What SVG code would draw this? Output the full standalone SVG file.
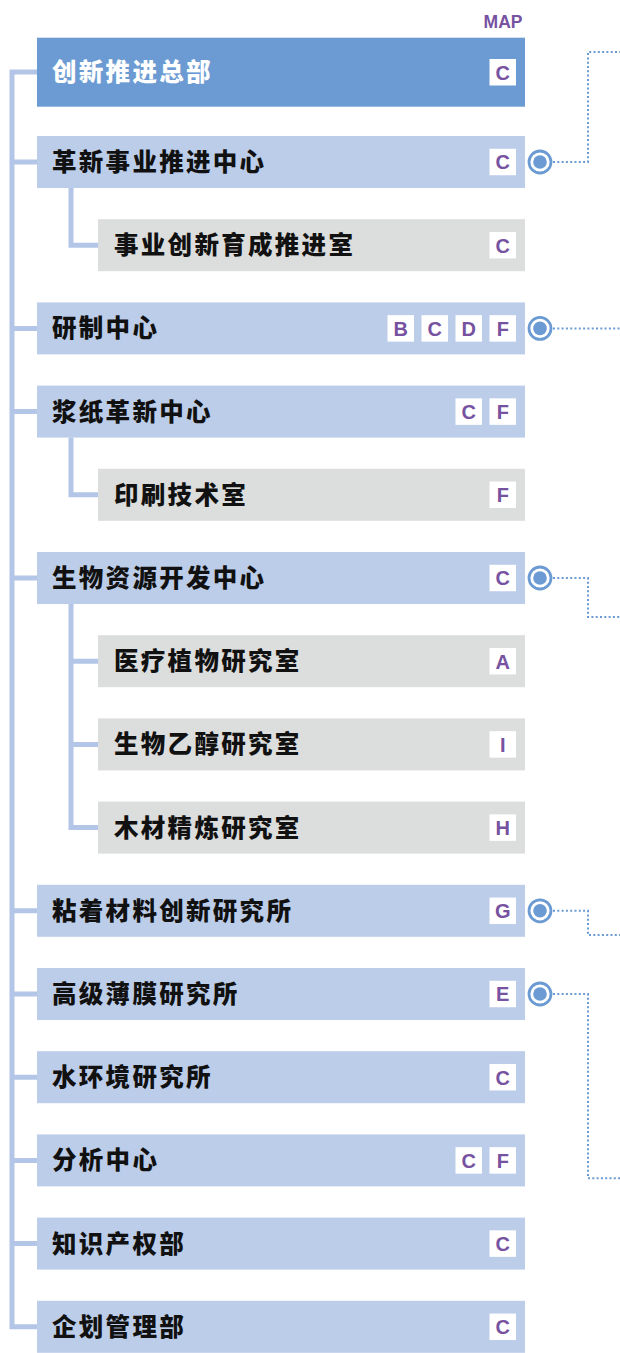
<svg xmlns="http://www.w3.org/2000/svg" width="620" height="1353" viewBox="0 0 620 1353">
<style>
.top{fill:#6b9bd2}
.main{fill:#bccde9}
.sub{fill:#dcdddd}
.lbl{font-family:"Noto Sans CJK SC","Noto Sans",sans-serif;font-weight:900;font-size:24.5px;letter-spacing:2.3px;fill:#111}
.lbl.w{fill:#fff}
.bd{fill:#fff}
.bt{font-family:"Liberation Sans",Arial,sans-serif;font-weight:700;font-size:20px;fill:#7652a0;text-anchor:middle}
.map{font-family:"Liberation Sans",Arial,sans-serif;font-weight:700;font-size:17.5px;fill:#7652a0;text-anchor:end}
.tree{fill:none;stroke:#b4c6e7;stroke-width:5}
.dot{fill:none;stroke:#6b9bd2;stroke-width:2;stroke-dasharray:2 2.3}
.ring{fill:#fff;stroke:#6b9bd2;stroke-width:2.8}
.core{fill:#6b9bd2}
</style>
<rect width="620" height="1353" fill="#fff"/>
<text class="map" x="522.5" y="27.5">MAP</text>

<g id="connectors">
<path class="tree" d="M37,72 H12 V1326.8 H37"/>
<path class="tree" d="M12,162 H37 M12,328.4 H37 M12,411.6 H37 M12,578 H37 M12,910.8 H37 M12,994 H37 M12,1077.2 H37 M12,1160.4 H37 M12,1243.6 H37"/>
<path class="tree" d="M71,188 V245.2 H98 M71,437.6 V494.8 H98 M71,604 V827.6 H98 M71,661.2 H98 M71,744.4 H98"/>
<path class="dot" d="M553,162 H588 V52 H620"/>
<path class="dot" d="M553,328.4 H620"/>
<path class="dot" d="M553,578 H588 V617 H620"/>
<path class="dot" d="M553,910.8 H588 V935 H620"/>
<path class="dot" d="M553,994 H588 V1178.3 H620"/>
<g id="markers">
<circle class="ring" cx="540" cy="162" r="11"/><circle class="core" cx="540" cy="162" r="6.8"/>
<circle class="ring" cx="540" cy="328.4" r="11"/><circle class="core" cx="540" cy="328.4" r="6.8"/>
<circle class="ring" cx="540" cy="578" r="11"/><circle class="core" cx="540" cy="578" r="6.8"/>
<circle class="ring" cx="540" cy="910.8" r="11"/><circle class="core" cx="540" cy="910.8" r="6.8"/>
<circle class="ring" cx="540" cy="994" r="11"/><circle class="core" cx="540" cy="994" r="6.8"/>
</g>
</g>

<g id="n1"><rect class="top" x="37" y="37.7" width="488" height="69"/><text class="lbl w" x="52" y="81">创新推进总部</text><rect class="bd" x="489.5" y="59" width="26.5" height="26.5"/><text class="bt" x="502.75" y="79.5">C</text></g>

<g id="n2"><rect class="main" x="37" y="136" width="488" height="52"/><text class="lbl" x="52" y="171">革新事业推进中心</text><rect class="bd" x="489.5" y="148.75" width="26.5" height="26.5"/><text class="bt" x="502.75" y="169.3">C</text></g>

<g id="n3"><rect class="sub" x="98" y="219.2" width="427" height="52"/><text class="lbl" x="114" y="254.2">事业创新育成推进室</text><rect class="bd" x="489.5" y="231.95" width="26.5" height="26.5"/><text class="bt" x="502.75" y="252.5">C</text></g>

<g id="n4"><rect class="main" x="37" y="302.4" width="488" height="52"/><text class="lbl" x="52" y="337.4">研制中心</text>
<rect class="bd" x="387.5" y="315.15" width="26.5" height="26.5"/><text class="bt" x="400.75" y="335.7">B</text>
<rect class="bd" x="421.5" y="315.15" width="26.5" height="26.5"/><text class="bt" x="434.75" y="335.7">C</text>
<rect class="bd" x="455.5" y="315.15" width="26.5" height="26.5"/><text class="bt" x="468.75" y="335.7">D</text>
<rect class="bd" x="489.5" y="315.15" width="26.5" height="26.5"/><text class="bt" x="502.75" y="335.7">F</text></g>

<g id="n5"><rect class="main" x="37" y="385.6" width="488" height="52"/><text class="lbl" x="52" y="420.6">浆纸革新中心</text>
<rect class="bd" x="455.5" y="398.35" width="26.5" height="26.5"/><text class="bt" x="468.75" y="418.9">C</text>
<rect class="bd" x="489.5" y="398.35" width="26.5" height="26.5"/><text class="bt" x="502.75" y="418.9">F</text></g>

<g id="n6"><rect class="sub" x="98" y="468.8" width="427" height="52"/><text class="lbl" x="114" y="503.8">印刷技术室</text><rect class="bd" x="489.5" y="481.55" width="26.5" height="26.5"/><text class="bt" x="502.75" y="502.1">F</text></g>

<g id="n7"><rect class="main" x="37" y="552" width="488" height="52"/><text class="lbl" x="52" y="587">生物资源开发中心</text><rect class="bd" x="489.5" y="564.75" width="26.5" height="26.5"/><text class="bt" x="502.75" y="585.3">C</text></g>

<g id="n8"><rect class="sub" x="98" y="635.2" width="427" height="52"/><text class="lbl" x="114" y="670.2">医疗植物研究室</text><rect class="bd" x="489.5" y="647.95" width="26.5" height="26.5"/><text class="bt" x="502.75" y="668.5">A</text></g>

<g id="n9"><rect class="sub" x="98" y="718.4" width="427" height="52"/><text class="lbl" x="114" y="753.4">生物乙醇研究室</text><rect class="bd" x="489.5" y="731.15" width="26.5" height="26.5"/><text class="bt" x="502.75" y="751.7">I</text></g>

<g id="n10"><rect class="sub" x="98" y="801.6" width="427" height="52"/><text class="lbl" x="114" y="836.6">木材精炼研究室</text><rect class="bd" x="489.5" y="814.35" width="26.5" height="26.5"/><text class="bt" x="502.75" y="834.9">H</text></g>

<g id="n11"><rect class="main" x="37" y="884.8" width="488" height="52"/><text class="lbl" x="52" y="919.8">粘着材料创新研究所</text><rect class="bd" x="489.5" y="897.55" width="26.5" height="26.5"/><text class="bt" x="502.75" y="918.1">G</text></g>

<g id="n12"><rect class="main" x="37" y="968" width="488" height="52"/><text class="lbl" x="52" y="1003">高级薄膜研究所</text><rect class="bd" x="489.5" y="980.75" width="26.5" height="26.5"/><text class="bt" x="502.75" y="1001.3">E</text></g>

<g id="n13"><rect class="main" x="37" y="1051.2" width="488" height="52"/><text class="lbl" x="52" y="1086.2">水环境研究所</text><rect class="bd" x="489.5" y="1063.95" width="26.5" height="26.5"/><text class="bt" x="502.75" y="1084.5">C</text></g>

<g id="n14"><rect class="main" x="37" y="1134.4" width="488" height="52"/><text class="lbl" x="52" y="1169.4">分析中心</text>
<rect class="bd" x="455.5" y="1147.15" width="26.5" height="26.5"/><text class="bt" x="468.75" y="1167.7">C</text>
<rect class="bd" x="489.5" y="1147.15" width="26.5" height="26.5"/><text class="bt" x="502.75" y="1167.7">F</text></g>

<g id="n15"><rect class="main" x="37" y="1217.6" width="488" height="52"/><text class="lbl" x="52" y="1252.6">知识产权部</text><rect class="bd" x="489.5" y="1230.35" width="26.5" height="26.5"/><text class="bt" x="502.75" y="1250.9">C</text></g>

<g id="n16"><rect class="main" x="37" y="1300.8" width="488" height="52"/><text class="lbl" x="52" y="1335.8">企划管理部</text><rect class="bd" x="489.5" y="1313.55" width="26.5" height="26.5"/><text class="bt" x="502.75" y="1334.1">C</text></g>
</svg>
